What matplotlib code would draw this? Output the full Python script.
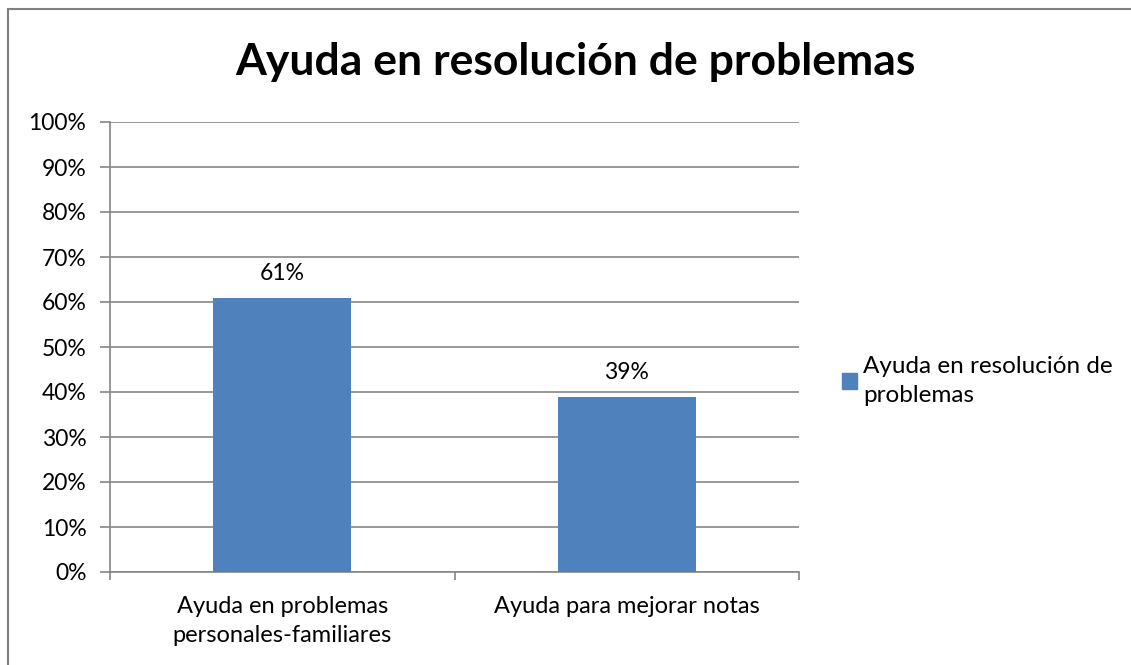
import matplotlib.pyplot as plt
from matplotlib.patches import Rectangle
from matplotlib.ticker import PercentFormatter

plt.rcParams['font.family'] = ['Lato', 'DejaVu Sans']

# data
categories = ["Ayuda en problemas\npersonales-familiares", "Ayuda para mejorar notas"]
values = [61, 39]
value_labels = ["61%", "39%"]
series_name = "Ayuda en resolución de\nproblemas"
title = "Ayuda en resolución de problemas"

bar_color = "#4F81BD"
grid_color = "#868686"

fig = plt.figure(figsize=(11.31, 6.65), dpi=100)

# outer chart border (Excel style)
fig.patches.append(Rectangle((8 / 1131, -0.1), 1.2, 1.1 - 9 / 665,
                             transform=fig.transFigure, fill=False,
                             edgecolor="#808080", linewidth=1.5))

ax = fig.add_axes([110 / 1131, 1 - 572 / 665, 689 / 1131, 450 / 665])

x = range(len(categories))
ax.bar(x, values, width=0.4, color=bar_color, zorder=3)

for i, v in enumerate(values):
    ax.annotate(value_labels[i], (i, v), xytext=(0, 10), textcoords="offset points",
                ha="center", va="bottom", fontsize=16.5)

ax.set_xlim(-0.5, 1.5)
ax.set_ylim(0, 100)
ax.set_yticks(range(0, 101, 10))
ax.yaxis.set_major_formatter(PercentFormatter(decimals=0))
ax.grid(axis="y", color=grid_color, linewidth=1.2, zorder=0)

ax.set_xticks([-0.5, 0.5, 1.5])
ax.set_xticklabels([])
ax.set_xticks(list(x), minor=True)
ax.set_xticklabels(categories, minor=True, fontsize=17, linespacing=1.5)
ax.tick_params(axis="x", which="major", length=6, color=grid_color, width=1.2)
ax.tick_params(axis="x", which="minor", length=0, pad=17)
ax.tick_params(axis="y", length=7, color=grid_color, width=1.2, labelsize=16.5, pad=10)

for side in ["top", "right"]:
    ax.spines[side].set_visible(False)
for side in ["left", "bottom"]:
    ax.spines[side].set_color(grid_color)
    ax.spines[side].set_linewidth(1.2)

fig.text(575 / 1131, 1 - 62 / 665, title, ha="center", va="center",
         fontsize=32, fontweight="bold")

leg = fig.legend([Rectangle((0, 0), 1, 1, color=bar_color)], [series_name],
                 loc="upper left", bbox_to_anchor=(823 / 1131, 1 - 337 / 665),
                 frameon=False, fontsize=17.5, handlelength=0.6, handleheight=0.6,
                 handletextpad=0.25, labelspacing=0.2, borderpad=0.3)
for t in leg.get_texts():
    t.set_linespacing(1.45)

fig.savefig("out.png", dpi=100)
